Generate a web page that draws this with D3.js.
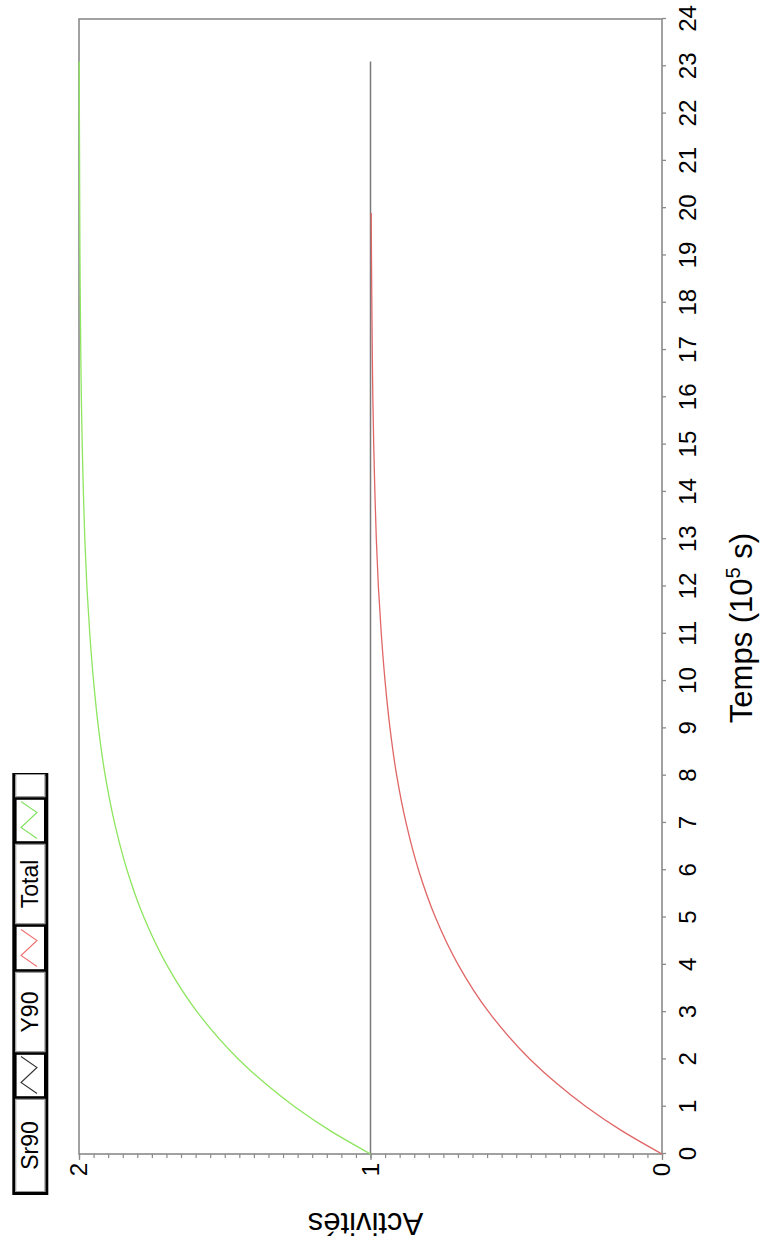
<!DOCTYPE html>
<html><head><meta charset="utf-8">
<script src="https://cdn.jsdelivr.net/npm/d3@7"></script>
<style>
html,body{margin:0;padding:0;background:#fff;}
svg{display:block;font-family:"Liberation Sans",Arial,sans-serif;}
</style></head>
<body>
<svg id="chart" width="760" height="1244"></svg>
<script>
// ---- data ----
const timeTicks = d3.range(0, 25, 1);            // Temps (10^5 s)
const valueTicksMajor = [0, 1, 2];               // Activités
const valueTicksMinor = d3.range(0, 2.0001, 0.05);

const seriesNames = ["Sr90", "Y90", "Total"];
const seriesColors = ["#7a7a7a", "#e06666", "#8ee55f"];
const legendIconColors = ["#333333", "#f07070", "#80e060"];

const srTimes  = [0, 23.1];
const srValues = [1, 1];

const yTimes  = [0, 0.5, 1, 1.5, 2, 3, 4, 5, 6, 7, 8, 9, 10, 11, 12, 13, 14, 15, 16, 17, 18, 19, 19.9];
const yValues = [0, 0.14, 0.26, 0.363, 0.452, 0.594, 0.699, 0.777, 0.835, 0.878, 0.91, 0.933, 0.95, 0.963, 0.973, 0.98, 0.985, 0.989, 0.992, 0.994, 0.9955, 0.9967, 0.9975];

const totTimes  = [0, 0.5, 1, 1.5, 2, 3, 4, 5, 6, 7, 8, 9, 10, 11, 12, 13, 14, 15, 16, 17, 18, 19, 20, 21, 22, 23.1];
const totValues = [1, 1.14, 1.26, 1.363, 1.452, 1.594, 1.699, 1.777, 1.835, 1.878, 1.91, 1.933, 1.95, 1.963, 1.973, 1.98, 1.985, 1.989, 1.992, 1.994, 1.9955, 1.9967, 1.9975, 1.998, 1.9987, 1.999];

// ---- drawing (chart drawn upright, then rotated -90°) ----
const W = 1244, H = 760;
const svg = d3.select("#chart");
const g = svg.append("g").attr("transform", `translate(0,${W}) rotate(-90)`);

const x = d3.scaleLinear().domain([0, 24]).range([90, 1225]);
const y = d3.scaleLinear().domain([0, 2]).range([662, 79]);
const frameColor = "#8a8a8a";

// frame
g.append("rect").attr("x", x(0)).attr("y", y(2)).attr("width", x(24) - x(0)).attr("height", y(0) - y(2))
  .attr("fill", "none").attr("stroke", frameColor).attr("stroke-width", 1.6);

// time axis (bottom in upright frame)
const xAxis = g.append("g").attr("transform", `translate(0,${y(0)})`)
  .call(d3.axisBottom(x).tickValues(timeTicks).tickSize(4).tickPadding(13).tickFormat(d3.format("d")));
xAxis.select(".domain").remove();
xAxis.selectAll("line").attr("stroke", frameColor).attr("stroke-width", 1.3);
xAxis.selectAll("text").attr("font-size", 24).attr("fill", "#000").attr("font-family", "Liberation Sans, Arial, sans-serif");

// value axis: minor ticks
const yMinor = g.append("g").attr("transform", `translate(${x(0)},0)`)
  .call(d3.axisLeft(y).tickValues(valueTicksMinor).tickSize(4).tickFormat(""));
yMinor.select(".domain").remove();
yMinor.selectAll("line").attr("stroke", frameColor).attr("stroke-width", 1.2);

// value axis: major ticks + labels
const yMajor = g.append("g").attr("transform", `translate(${x(0)},0)`)
  .call(d3.axisLeft(y).tickValues(valueTicksMajor).tickSize(6).tickPadding(3).tickFormat(d3.format("d")));
yMajor.select(".domain").remove();
yMajor.selectAll("line").attr("stroke", frameColor).attr("stroke-width", 1.3);
yMajor.selectAll("text").attr("font-size", 24).attr("fill", "#000").attr("font-family", "Liberation Sans, Arial, sans-serif");

// lines
const line = d3.line().x(d => x(d[0])).y(d => y(d[1])).curve(d3.curveMonotoneX);
const series = [
  d3.zip(srTimes, srValues),
  d3.zip(yTimes, yValues),
  d3.zip(totTimes, totValues)
];
series.forEach((s, i) => {
  g.append("path").datum(s).attr("d", line).attr("fill", "none")
    .attr("stroke", seriesColors[i]).attr("stroke-width", i === 0 ? 1.5 : 1.3);
});

// axis titles
const tt = g.append("text").attr("x", 616).attr("y", 752).attr("text-anchor", "middle")
  .attr("font-size", 31).attr("fill", "#000");
tt.append("tspan").text("Temps (10");
tt.append("tspan").attr("font-size", 20).attr("dy", -12).text("5");
tt.append("tspan").attr("dy", 12).text(" s)");

g.append("text").attr("transform", "translate(31,365.5) rotate(-90)")
  .attr("text-anchor", "middle").attr("font-size", 31).attr("fill", "#000").text("Activités");

// legend
const legX0 = 50.5, legY0 = 13.8, legH = 33;
const cells = [
  {type: "text", w: 94, label: seriesNames[0]},
  {type: "icon", w: 46, color: legendIconColors[0]},
  {type: "text", w: 81, label: seriesNames[1]},
  {type: "icon", w: 47, color: legendIconColors[1]},
  {type: "text", w: 81, label: seriesNames[2]},
  {type: "icon", w: 46, color: legendIconColors[2]},
  {type: "empty", w: 24}
];
const leg = g.append("g");
leg.append("rect").attr("x", legX0).attr("y", legY0).attr("width", d3.sum(cells, c => c.w)).attr("height", legH)
  .attr("fill", "#fff").attr("stroke", "#000").attr("stroke-width", 3);
let cx = legX0 + 1;
cells.forEach(c => {
  if (c.type === "icon") {
    leg.append("rect").attr("x", cx + 1).attr("y", legY0 + 1.5).attr("width", c.w - 2).attr("height", legH - 3)
      .attr("fill", "#fff").attr("stroke", "#000").attr("stroke-width", 2.6);
    const pts = [[cx + 5, 37], [cx + 16, 21], [cx + 31, 37], [cx + 42, 21]];
    leg.append("polyline").attr("points", pts.map(p => p.join(",")).join(" "))
      .attr("fill", "none").attr("stroke", c.color).attr("stroke-width", 1.1);
  } else {
    leg.append("rect").attr("x", cx + 1).attr("y", legY0 + 2).attr("width", c.w - 2).attr("height", legH - 4)
      .attr("fill", "#fff").attr("stroke", "#9a9a9a").attr("stroke-width", 1);
    if (c.label) {
      leg.append("text").attr("x", cx + c.w / 2).attr("y", 38).attr("text-anchor", "middle")
        .attr("font-size", 23).attr("fill", "#000").text(c.label);
    }
  }
  cx += c.w;
});
</script>
</body></html>
